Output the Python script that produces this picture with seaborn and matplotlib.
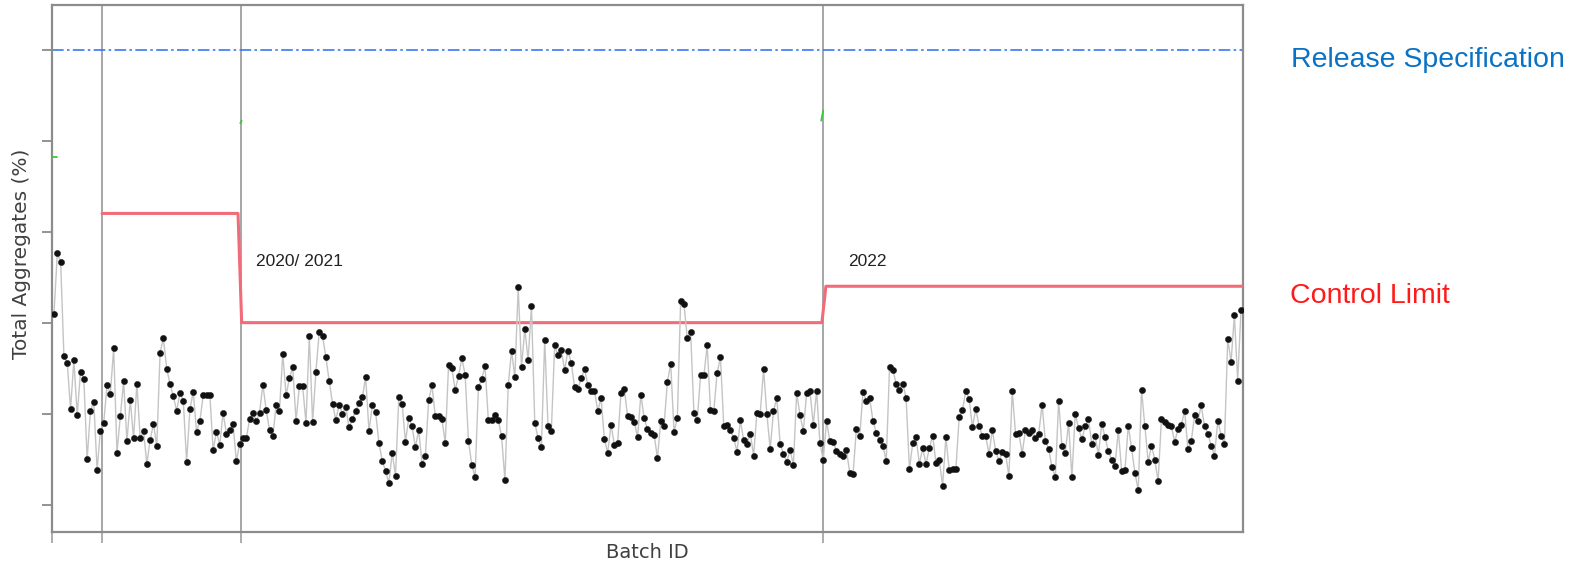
import numpy as np
import pandas as pd
import matplotlib
matplotlib.use("Agg")
import matplotlib.pyplot as plt
import seaborn as sns

# Total aggregates (%) per batch, in release order
aggregates = [
    # early batches
    2.10, 2.76, 2.67, 1.63, 1.56, 1.05, 1.59, 0.98, 1.46, 1.38, 0.50, 1.03, 1.13, 0.38, 0.81,
    0.90, 1.31, 1.22, 1.72, 0.57, 0.97, 1.36, 0.70, 1.15, 0.73, 1.33, 0.73, 0.81, 0.45, 0.71,
    0.89, 0.64, 1.67, 1.83, 1.49, 1.33, 1.19, 1.03, 1.23, 1.14, 0.47, 1.05, 1.24, 0.80, 0.92,
    1.20, 1.21, 1.21, 0.60, 0.80, 0.66, 1.01, 0.78, 0.82, 0.89, 0.48, 0.67,
    # 2020 / 2021
    0.73, 0.73, 0.94,
    1.01, 0.92, 1.01, 1.32, 1.04, 0.82, 0.75, 1.09, 1.03, 1.66, 1.20, 1.39, 1.51, 0.92, 1.30,
    1.30, 0.90, 1.85, 0.91, 1.46, 1.90, 1.85, 1.62, 1.36, 1.11, 0.93, 1.10, 1.00, 1.07, 0.85,
    0.94, 1.03, 1.12, 1.18, 1.40, 0.81, 1.09, 1.02, 0.68, 0.48, 0.37, 0.24, 0.57, 0.32, 1.18,
    1.11, 0.69, 0.95, 0.86, 0.63, 0.82, 0.45, 0.53, 1.15, 1.31, 0.97,
    0.97, 0.94, 0.68, 1.53, 1.50, 1.26, 1.41, 1.61, 1.43, 0.70, 0.44, 0.30, 1.29, 1.38, 1.52,
    0.93, 0.93, 0.98, 0.93, 0.75, 0.27, 1.32, 1.69, 1.40, 2.39, 1.51, 1.93, 1.59, 2.18, 0.90,
    0.73, 0.63, 1.81, 0.86, 0.81, 1.75, 1.64, 1.70, 1.48, 1.69, 1.56, 1.29, 1.27, 1.39, 1.49,
    1.32, 1.25, 1.25, 1.03, 1.17, 0.72, 0.57, 0.88, 0.66, 0.68, 1.23, 1.27, 0.97,
    0.96, 0.91, 0.74, 1.21, 0.95, 0.83, 0.79, 0.77, 0.51, 0.92, 0.87, 1.35, 1.55, 0.80, 0.95,
    2.24, 2.20, 1.83, 1.90, 1.01, 0.93, 1.42, 1.42, 1.75, 1.04, 1.03, 1.45, 1.62, 0.87, 0.88,
    0.82, 0.73, 0.58, 0.93, 0.71, 0.67, 0.78, 0.54, 1.01, 1.00, 1.49, 1.00, 0.61, 1.03, 1.17,
    0.67, 0.56, 0.47, 0.60, 0.44, 1.23, 0.98, 0.81, 1.23, 1.25, 0.88, 1.25, 0.68,
    # 2022
    0.49, 0.92, 0.70, 0.69, 0.59,
    0.56, 0.53, 0.60, 0.35, 0.34, 0.83, 0.75, 1.24, 1.14, 1.17, 0.92, 0.79, 0.71, 0.65, 0.48,
    1.51, 1.48, 1.33, 1.26, 1.33, 1.17, 0.39, 0.68, 0.74, 0.45, 0.62, 0.45, 0.62, 0.76, 0.46,
    0.49, 0.21, 0.74, 0.38, 0.39, 0.39, 0.96, 1.04, 1.25, 1.16, 0.85, 1.05, 0.87, 0.75, 0.75,
    0.56, 0.82, 0.59, 0.48, 0.58, 0.56, 0.31, 1.25, 0.78, 0.79,
    0.56, 0.82, 0.79, 0.82, 0.73, 0.78, 1.10, 0.70, 0.61, 0.41, 0.30, 1.14, 0.64, 0.57, 0.90,
    0.30, 1.00, 0.84, 0.72, 0.86, 0.94, 0.67, 0.75, 0.55, 0.89, 0.74, 0.59, 0.49, 0.43, 0.82,
    0.37, 0.38, 0.87, 0.62, 0.35, 0.16, 1.26, 0.86, 0.47, 0.65, 0.49, 0.26, 0.94, 0.91, 0.88,
    0.86, 0.69, 0.83, 0.88, 1.03, 0.61, 0.70, 0.98, 0.92, 1.09, 0.86, 0.78, 0.65, 0.54, 0.92,
    0.76, 0.67, 1.82, 1.57, 2.08, 1.36, 2.14,
]

# Period boundaries (batch index) and control limit per period
period_bounds = [14.5, 56.5, 231.8]
control_limits = [3.2, 2.0, 2.4]
release_spec = 5.0
period_labels = ["2020/ 2021", "2022"]
period_label_x = [61.0, 239.5]
period_label_y = [2.62, 2.62]
y_ticks = [0, 1, 2, 3, 4, 5]

n = len(aggregates)
batch = np.arange(n)
df = pd.DataFrame({"batch": batch, "aggregates": aggregates})

W, H = 1573, 565
fig = plt.figure(figsize=(W / 100, H / 100), dpi=100)
sns.set_theme(style="white")
plt.rcParams["font.family"] = ["Liberation Sans", "DejaVu Sans"]

left, right, top, bottom = 52, 1243, 5, 532
ax = fig.add_axes([left / W, 1 - bottom / H, (right - left) / W, (bottom - top) / H])

pad = 0.6
x_min, x_max = -pad, n - 1 + pad
ax.set_xlim(x_min, x_max)
ax.set_ylim(-0.30, 5.49)

# period separators
for b in period_bounds:
    ax.axvline(b, color="#a6a6a6", lw=1.4, zorder=1)

# release specification
ax.axhline(release_spec, color="#3a78f2", lw=1.2, ls=(0, (7, 2, 1.5, 2)), zorder=2)

# control limit, stepping at each period boundary
ramp = 1.0
lim_x = [period_bounds[0], period_bounds[1] - ramp, period_bounds[1] + 0.1,
         period_bounds[2] - 0.2, period_bounds[2] + ramp, x_max]
lim_y = [control_limits[0], control_limits[0], control_limits[1],
         control_limits[1], control_limits[2], control_limits[2]]
lim_df = pd.DataFrame({"x": lim_x, "y": lim_y})
sns.lineplot(data=lim_df, x="x", y="y", sort=False, ax=ax, color="#f26b78",
             lw=2.2, zorder=3, estimator=None)

# short green upper-limit stubs at the start of each period
green_stubs = [([x_min, 0.9], [3.82, 3.82]),
               ([period_bounds[1] - 0.3, period_bounds[1] + 0.1], [4.19, 4.22]),
               ([period_bounds[2] - 0.4, period_bounds[2] + 0.2], [4.22, 4.33])]
for xs, ys in green_stubs:
    ax.plot(xs, ys, color="#3cc83c", lw=1.3, zorder=3)

# batch results
sns.lineplot(data=df, x="batch", y="aggregates", ax=ax, color="#c4c4c4", lw=1.0,
             zorder=4, estimator=None)
sns.scatterplot(data=df, x="batch", y="aggregates", ax=ax, color="#111111", s=20,
                edgecolor="#111111", linewidth=0.3, zorder=5)

for lab, lx, ly in zip(period_labels, period_label_x, period_label_y):
    ax.text(lx, ly, lab, fontsize=12.5, color="#222222", va="baseline", ha="left")

# axes styling
ax.set_yticks(y_ticks)
ax.set_yticklabels([])
ax.set_xticks([x_min] + period_bounds)
ax.set_xticklabels([])
ax.tick_params(axis="y", direction="out", length=7, width=1.2, color="#808080", left=True)
ax.tick_params(axis="x", direction="out", length=8, width=1.2, color="#a0a0a0", bottom=True)
for sp in ax.spines.values():
    sp.set_color("#8c8c8c")
    sp.set_linewidth(1.6)
ax.set_xlabel("")
ax.set_ylabel("")

label_font = ["DejaVu Sans"]
fig.text((left + right) / 2 / W, 1 - 552 / H, "Batch ID", fontsize=14, color="#404040",
         ha="center", va="center", family=label_font)
fig.text(22 / W, 1 - 254 / H, "Total Aggregates (%)", fontsize=14.5, color="#404040",
         ha="center", va="center", rotation=90, family=label_font)

fig.text(1291 / W, 1 - 67 / H, "Release Specification", color="#0a72c4",
         fontsize=20.5, va="baseline", ha="left")
fig.text(1290 / W, 1 - 303 / H, "Control Limit", color="#ff1a1a",
         fontsize=20.5, va="baseline", ha="left")

fig.savefig("out.png", dpi=100)
